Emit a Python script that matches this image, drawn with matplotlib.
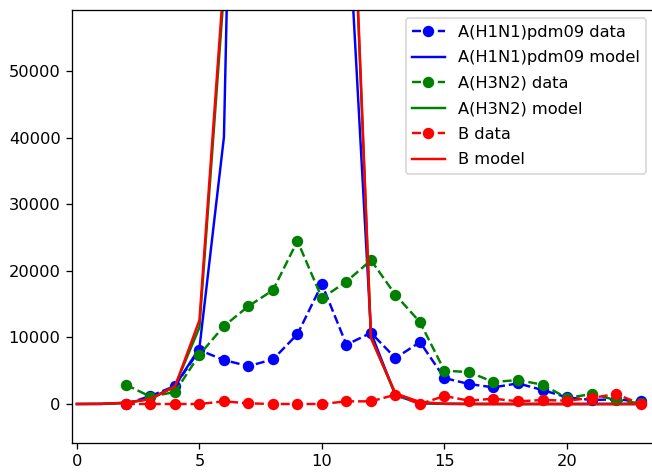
import matplotlib
matplotlib.use("Agg")
import matplotlib.pyplot as plt
import numpy as np

# Weeks
data_x = list(range(2, 24))
model_x = list(range(0, 24))

h1_data = [0, 1200, 2700, 8100, 6600, 5700, 6700, 10500, 18000, 8900, 10700,
           6900, 9300, 3900, 3000, 2500, 3100, 2100, 1000, 600, 700, 400]
h3_data = [2900, 1100, 1800, 7400, 11700, 14700, 17100, 24500, 15900, 18400, 21600,
           16400, 12300, 5000, 4800, 3300, 3600, 2900, 900, 1500, 600, 100]
b_data = [0, 0, 0, 0, 400, 100, 0, 0, 0, 400, 400,
          1400, 0, 1200, 500, 800, 400, 600, 500, 900, 1500, 0]

h1_model = [0, 20, 150, 800, 2700, 8400, 40100, 210000, 360000, 380000, 250000, 78000,
            10700, 1300, 100, 20, 5, 0, 0, 0, 0, 0, 0, 0]
h3_model = [0, 20, 180, 750, 2700, 11500, 62000, 245000, 390000, 360000, 225000, 102000,
            10000, 1400, 200, 30, 5, 0, 0, 0, 0, 0, 0, 0]
b_model = [0, 20, 200, 750, 2600, 12600, 64000, 250000, 400000, 350000, 220000, 104000,
           9900, 1600, 300, 40, 5, 0, 0, 0, 0, 0, 0, 0]

labels = ["A(H1N1)pdm09 data", "A(H1N1)pdm09 model",
          "A(H3N2) data", "A(H3N2) model",
          "B data", "B model"]

dpi = 117
fig = plt.figure(figsize=(652 / dpi, 472 / dpi), dpi=dpi)
ax = fig.add_axes([72 / 652, 1 - 443 / 472, 582 / 652, 433 / 472])

ax.plot(data_x, h1_data, "bo--", label=labels[0])
ax.plot(model_x, h1_model, "b-", label=labels[1])
ax.plot(data_x, h3_data, "go--", label=labels[2])
ax.plot(model_x, h3_model, "g-", label=labels[3])
ax.plot(data_x, b_data, "ro--", label=labels[4])
ax.plot(model_x, b_model, "r-", label=labels[5])

ax.set_xlim(-0.2, 23.55)
ax.set_ylim(-5860, 59200)
ax.set_xticks([0, 5, 10, 15, 20])
ax.set_yticks([0, 10000, 20000, 30000, 40000, 50000])
ax.legend(loc="upper right", labelspacing=0.65)

fig.savefig("out.png", dpi=dpi)
